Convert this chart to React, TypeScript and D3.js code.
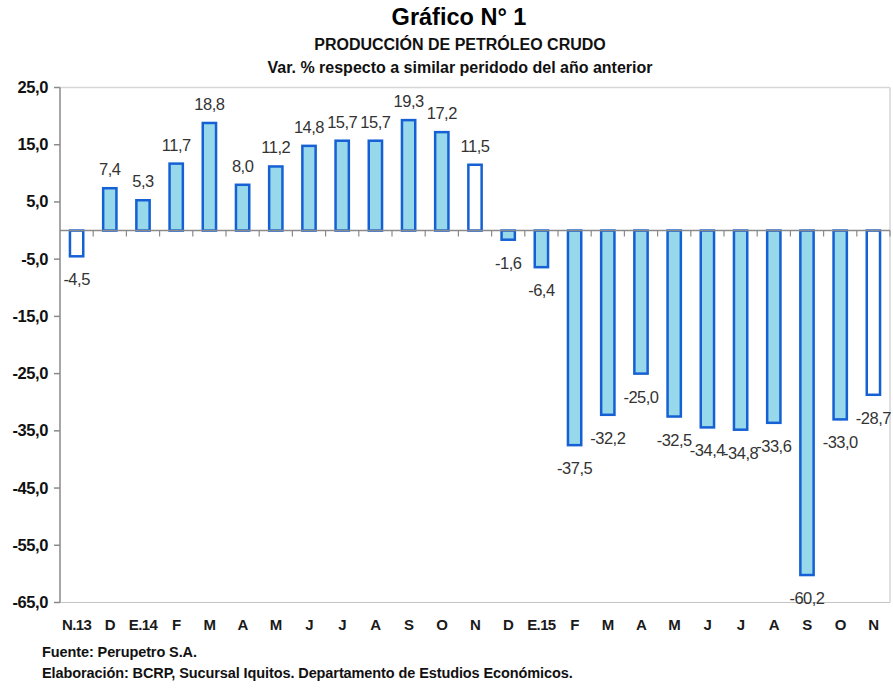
import React from 'react';
import * as d3 from 'd3';

const categories = ['N.13', 'D', 'E.14', 'F', 'M', 'A', 'M', 'J', 'J', 'A', 'S', 'O', 'N',
  'D', 'E.15', 'F', 'M', 'A', 'M', 'J', 'J', 'A', 'S', 'O', 'N'];
const values = [-4.5, 7.4, 5.3, 11.7, 18.8, 8.0, 11.2, 14.8, 15.7, 15.7, 19.3, 17.2, 11.5,
  -1.6, -6.4, -37.5, -32.2, -25.0, -32.5, -34.4, -34.8, -33.6, -60.2, -33.0, -28.7];
// the November bars are drawn hollow
const hollowBars = [0, 12, 24];
const yTicks = [25, 15, 5, -5, -15, -25, -35, -45, -55, -65];

const W = 893;
const H = 690;
const plot = { left: 60, right: 890, top: 87.5, bottom: 602.5 };
const font = 'Liberation Sans, Arial, sans-serif';
const fmt = (v: number) => v.toFixed(1).replace('.', ',');

const App: React.FC = () => {
  const idx = categories.map((_, i) => String(i));
  const x = d3.scaleBand().domain(idx).range([plot.left, plot.right]).paddingInner(0.6).paddingOuter(0.3);
  const band = d3.scaleBand().domain(idx).range([plot.left, plot.right]);
  const y = d3.scaleLinear().domain([-65, 25]).range([plot.bottom, plot.top]);
  const y0 = y(0);

  return (
    <svg width={W} height={H} style={{ position: 'absolute', left: 0, top: 0, background: '#fff' }}
      fontFamily={font}>
      {/* titles */}
      <text x={459} y={25} textAnchor="middle" fontWeight="bold" fontSize={23.5} fill="#000">Gráfico N° 1</text>
      <text x={460} y={50} textAnchor="middle" fontWeight="bold" fontSize={16} fill="#111">PRODUCCIÓN DE PETRÓLEO CRUDO</text>
      <text x={460} y={73} textAnchor="middle" fontWeight="bold" fontSize={16} fill="#111">Var. % respecto a similar peridodo del año anterior</text>

      {/* plot frame */}
      <line x1={plot.left} x2={plot.right} y1={plot.top} y2={plot.top} stroke="#d6d6d6" strokeWidth={1.5} />
      <line x1={plot.right} x2={plot.right} y1={plot.top} y2={plot.bottom} stroke="#d6d6d6" strokeWidth={1.5} />
      <line x1={plot.left} x2={plot.right} y1={plot.bottom} y2={plot.bottom} stroke="#c4c4c4" strokeWidth={1} />

      {/* y axis */}
      <line x1={plot.left} x2={plot.left} y1={plot.top} y2={plot.bottom} stroke="#8a8a8a" strokeWidth={1.5} />
      {yTicks.map(t => (
        <g key={t}>
          <line x1={plot.left - 6} x2={plot.left} y1={y(t)} y2={y(t)} stroke="#8a8a8a" strokeWidth={1.5} />
          <text x={48} y={y(t) + 5.5} textAnchor="end" fontWeight="bold" fontSize={16.5} fill="#111"
            letterSpacing={-0.4}>{fmt(t)}</text>
        </g>
      ))}

      {/* bars */}
      {values.map((v, i) => {
        const yy = y(v);
        return (
          <rect key={i} x={x(String(i))!} width={x.bandwidth()} y={Math.min(yy, y0)} height={Math.abs(yy - y0)}
            fill={hollowBars.includes(i) ? '#ffffff' : '#97d8ea'} stroke="#1560d4" strokeWidth={2.5} />
        );
      })}

      {/* zero line with category ticks */}
      <line x1={plot.left} x2={plot.right} y1={y0} y2={y0} stroke="#8a8a8a" strokeWidth={1.5} />
      {idx.map(k => (
        <line key={k} x1={band(k)! + band.bandwidth()} x2={band(k)! + band.bandwidth()} y1={y0} y2={y0 + 6}
          stroke="#8a8a8a" strokeWidth={1.2} />
      ))}

      {/* value labels */}
      {values.map((v, i) => (
        <text key={i} x={band(String(i))! + band.bandwidth() / 2} y={v >= 0 ? y(v) - 13 : y(v) + 29}
          textAnchor="middle" fontSize={16.5} fill="#333" letterSpacing={-0.5}>{fmt(v)}</text>
      ))}

      {/* category labels */}
      {categories.map((c, i) => (
        <text key={i} x={band(String(i))! + band.bandwidth() / 2} y={630} textAnchor="middle"
          fontWeight="bold" fontSize={15} fill="#1a1a1a" letterSpacing={-0.6}>{c}</text>
      ))}

      {/* footer */}
      <text x={42} y={657} fontWeight="bold" fontSize={14.5} fill="#111" letterSpacing={-0.1}>Fuente: Perupetro S.A.</text>
      <text x={42} y={678} fontWeight="bold" fontSize={14.5} fill="#111" letterSpacing={-0.1}>Elaboración: BCRP, Sucursal Iquitos. Departamento de Estudios Económicos.</text>
    </svg>
  );
};

export default App;
